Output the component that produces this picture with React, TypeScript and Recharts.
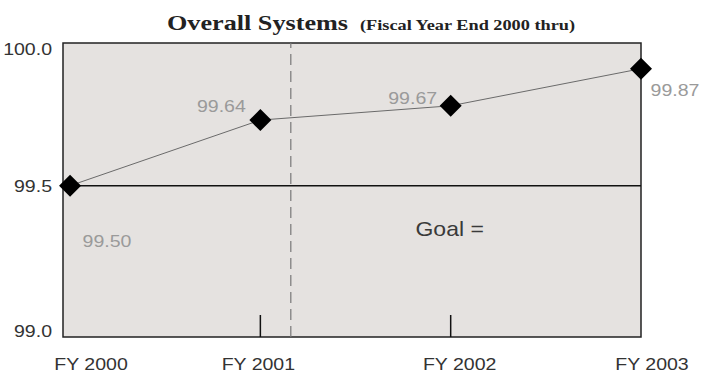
import React from 'react';
import { LineChart, Line, XAxis, YAxis, CartesianGrid, ReferenceLine, ReferenceArea, LabelList } from 'recharts';

// fiscal years along the bottom
const years = ['FY 2000', 'FY 2001', 'FY 2002', 'FY 2003'];
// availability (%) as plotted in the picture
const availability = [99.5, 99.73, 99.78, 99.91];
// values printed next to each marker
const printedValues = ['99.50', '99.64', '99.67', '99.87'];
const yTicks = [99, 99.5, 100];
const goal = 99.5;
// position of the dashed divider, in year-index units
const dividerAt = 1.16;

const X_MIN = -0.037;
const Y_MIN = 98.97;
const Y_MAX = 100;

// label nudges (px) relative to each marker / tick
const LABEL_SHIFT: [number, number][] = [[37, 55], [-39, -14], [-38, -8], [34, 21]];
const XLABEL_SHIFT = [21, -2, 9, 11];
const YLABEL_SHIFT = [3, 0, 6];

const SANS = '"Liberation Sans", Arial, sans-serif';
const SERIF = '"Liberation Serif", "Times New Roman", serif';
const STRETCH = 'scale(1.15,1)';

const data = years.map((year, i) => ({ i, year, value: availability[i], label: printedValues[i] }));

const Diamond = (props: any) => {
  const { cx, cy } = props;
  if (cx == null || cy == null) return null;
  const r = 11;
  return <polygon points={`${cx},${cy - r} ${cx + r},${cy} ${cx},${cy + r} ${cx - r},${cy}`} fill="#000" />;
};

const YTick = ({ x, y, payload, index }: any) => (
  <g transform={`translate(${x},${y + (YLABEL_SHIFT[index] ?? 0)})`}>
    <text transform={STRETCH} textAnchor="end" dy={6} fontFamily={SANS} fontSize={17} fill="#333">
      {Number(payload.value).toFixed(1)}
    </text>
  </g>
);

const XTick = ({ x, y, payload, index }: any) => {
  const inner = index > 0 && index < years.length - 1;
  return (
    <g transform={`translate(${x},${y})`}>
      {inner && <line x1={0} x2={0} y1={0} y2={-22} stroke="#111" strokeWidth={1.5} />}
      <g transform={`translate(${XLABEL_SHIFT[index] ?? 0},33)`}>
        <text transform={STRETCH} textAnchor="middle" fontFamily={SANS} fontSize={17} fill="#333">
          {years[payload.value] ?? ''}
        </text>
      </g>
    </g>
  );
};

const ValueLabel = (props: any) => {
  const { x, y, index, value } = props;
  const [dx, dy] = LABEL_SHIFT[index] ?? [0, 0];
  return (
    <g transform={`translate(${x + dx},${y + dy + 6})`}>
      <text transform={STRETCH} textAnchor="middle" fontFamily={SANS} fontSize={17} fill="#9a9a9a">
        {value}
      </text>
    </g>
  );
};

const GoalLabel = (props: any) => {
  const { viewBox } = props;
  if (!viewBox) return null;
  return (
    <g transform={`translate(${viewBox.x + viewBox.width * 0.669},${viewBox.y + 50})`}>
      <text transform={STRETCH} textAnchor="middle" fontFamily={SANS} fontSize={20} fill="#3a3a3a">
        Goal =
      </text>
    </g>
  );
};

export default function App() {
  return (
    <div style={{ position: 'absolute', left: 0, top: 0, width: 704, height: 373, background: '#fff' }}>
      <svg width={704} height={44} style={{ position: 'absolute', left: 0, top: 0 }}>
        <text x={167} y={30} textLength={181} lengthAdjust="spacingAndGlyphs" fontFamily={SERIF} fontWeight="bold" fontSize={22} fill="#222">
          Overall Systems
        </text>
        <text x={360} y={30} textLength={215} lengthAdjust="spacingAndGlyphs" fontFamily={SERIF} fontWeight="bold" fontSize={14} fill="#222">
          (Fiscal Year End 2000 thru)
        </text>
      </svg>
      <LineChart width={704} height={373} data={data} margin={{ top: 43, right: 63, bottom: 0, left: 0 }}>
        <CartesianGrid fill="#e5e2e0" horizontal={false} vertical={false} />
        <ReferenceArea x1={X_MIN} x2={3} y1={Y_MIN} y2={Y_MAX} fill="none" stroke="#222" strokeWidth={1.5} ifOverflow="visible" />
        <XAxis
          dataKey="i"
          type="number"
          domain={[X_MIN, 3]}
          ticks={[0, 1, 2, 3]}
          height={36}
          axisLine={false}
          tickLine={false}
          tickSize={0}
          tickMargin={0}
          tick={<XTick />}
          interval={0}
        />
        <YAxis
          type="number"
          domain={[Y_MIN, Y_MAX]}
          ticks={yTicks}
          width={63}
          axisLine={false}
          tickLine={false}
          tickSize={0}
          tickMargin={11}
          tick={<YTick />}
          interval={0}
        />
        <ReferenceLine x={dividerAt} stroke="#777" strokeWidth={1.2} strokeDasharray="11 6" />
        <ReferenceLine y={goal} stroke="#111" strokeWidth={1.5} label={<GoalLabel />} />
        <Line
          type="linear"
          dataKey="value"
          stroke="#6a6a6a"
          strokeWidth={1}
          dot={<Diamond />}
          activeDot={false}
          isAnimationActive={false}
        >
          <LabelList dataKey="label" content={<ValueLabel />} />
        </Line>
      </LineChart>
    </div>
  );
}
